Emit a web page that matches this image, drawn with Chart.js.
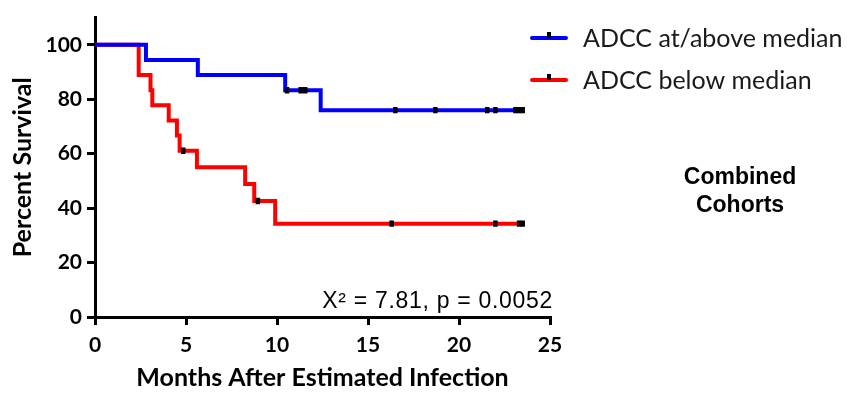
<!DOCTYPE html>
<html>
<head>
<meta charset="utf-8">
<script src="https://cdn.jsdelivr.net/npm/chart.js@4.4.0/dist/chart.umd.min.js"></script>
<style>
  html, body { margin: 0; padding: 0; background: #fff; }
</style>
</head>
<body>
<canvas id="survivalChart" width="847" height="393"></canvas>
<script>
// Kaplan-Meier steps: months after infection and percent surviving after each event
const aboveTimes = [0, 2.8, 5.65, 10.45, 12.4, 23.5];
const aboveSurvival = [100, 94.4, 88.9, 83.3, 76.0, 76.0];
const aboveCensored = [10.55, 11.3, 11.55, 16.5, 18.7, 21.55, 22.0, 23.1, 23.3, 23.5];

const belowTimes = [0, 2.4, 3.05, 3.15, 4.05, 4.5, 4.65, 5.6, 8.25, 8.75, 9.9, 23.5];
const belowSurvival = [100, 88.9, 83.3, 77.8, 72.2, 66.7, 61.1, 55.0, 48.9, 42.6, 34.3, 34.3];
const belowCensored = [4.85, 8.95, 16.3, 22.0, 23.3, 23.5];

const groupLabels = ['ADCC at/above median', 'ADCC below median'];
const groupColors = ['#0000ff', '#ff0000'];
const xTicks = [0, 5, 10, 15, 20, 25];
const yTicks = [0, 20, 40, 60, 80, 100];

function toPoints(times, values) {
  return times.map((t, i) => ({ x: t, y: values[i] }));
}

// censored subjects sit on the curve level at their time
function censorPoints(censored, times, values) {
  return censored.map(t => {
    let level = values[0];
    times.forEach((s, i) => { if (s <= t) level = values[i]; });
    return { x: t, y: level };
  });
}

const tickFont = { family: 'Lato', size: 21, weight: 'bold' };
const xTitleFont = { family: 'Lato', size: 25, weight: 'bold' };
const yTitleFont = { family: 'Lato', size: 25, weight: 'bold' };

const censorStyle = {
  type: 'scatter',
  showLine: false,
  pointStyle: 'line',
  rotation: 90,
  pointRadius: 3.2,
  pointHoverRadius: 3.2,
  pointBorderWidth: 4.5,
  pointBorderColor: '#000',
  borderColor: '#000',
  order: 0
};

// legend, test result and cohort label
const extras = {
  id: 'extras',
  afterDraw(chart) {
    const ctx = chart.ctx;
    ctx.save();
    const rows = [38, 80];
    rows.forEach((y, i) => {
      ctx.strokeStyle = groupColors[i];
      ctx.lineWidth = 4;
      ctx.lineCap = 'round';
      ctx.beginPath();
      ctx.moveTo(532, y);
      ctx.lineTo(566, y);
      ctx.stroke();
      ctx.fillStyle = '#000';
      ctx.fillRect(547, y - 6, 4, 6);
      ctx.fillStyle = '#1a1a1a';
      ctx.font = '25px Lato';
      ctx.textAlign = 'left';
      ctx.textBaseline = 'middle';
      ctx.fillText(groupLabels[i], 583, y + 1);
    });

    ctx.fillStyle = '#000';
    ctx.font = '23px "Liberation Sans"';
    ctx.letterSpacing = '0.7px';
    ctx.textAlign = 'right';
    ctx.textBaseline = 'alphabetic';
    ctx.fillText('X\u00b2 = 7.81, p = 0.0052', 553, 308);
    ctx.letterSpacing = '0px';

    ctx.font = 'bold 23px "Liberation Sans"';
    ctx.textAlign = 'center';
    ctx.fillText('Combined', 740, 184);
    ctx.fillText('Cohorts', 740, 212);
    ctx.restore();
  }
};

const survivalChart = new Chart(document.getElementById('survivalChart'), {
  type: 'line',
  data: {
    datasets: [
      {
        label: groupLabels[0],
        data: toPoints(aboveTimes, aboveSurvival),
        borderColor: groupColors[0],
        borderWidth: 4,
        stepped: 'before',
        pointRadius: 0,
        fill: false,
        order: 1
      },
      {
        label: groupLabels[1],
        data: toPoints(belowTimes, belowSurvival),
        borderColor: groupColors[1],
        borderWidth: 4,
        stepped: 'before',
        pointRadius: 0,
        fill: false,
        order: 2
      },
      Object.assign({ label: 'censored above', data: censorPoints(aboveCensored, aboveTimes, aboveSurvival) }, censorStyle),
      Object.assign({ label: 'censored below', data: censorPoints(belowCensored, belowTimes, belowSurvival) }, censorStyle)
    ]
  },
  options: {
    responsive: false,
    animation: false,
    layout: { padding: { top: 12, right: 297, bottom: 0, left: 0 } },
    plugins: { legend: { display: false }, tooltip: { enabled: false } },
    scales: {
      x: {
        type: 'linear',
        min: 0,
        max: 25,
        afterBuildTicks: s => { s.ticks = xTicks.map(v => ({ value: v })); },
        afterFit: s => { s.height = 76; },
        ticks: { color: '#000', font: tickFont, padding: 8, maxRotation: 0 },
        grid: { drawOnChartArea: false, color: '#000', lineWidth: 3, tickLength: 8 },
        border: { color: '#000', width: 3 },
        title: { display: true, text: 'Months After Estimated Infection', color: '#000', font: xTitleFont, padding: { top: 0, bottom: 0 } }
      },
      y: {
        type: 'linear',
        min: 0,
        max: 110,
        afterBuildTicks: s => { s.ticks = yTicks.map(v => ({ value: v })); },
        afterFit: s => { s.width = 95; },
        ticks: { color: '#000', font: tickFont, padding: 5 },
        grid: { drawOnChartArea: false, color: '#000', lineWidth: 3, tickLength: 8 },
        border: { color: '#000', width: 3 },
        title: { display: true, text: 'Percent Survival', color: '#000', font: yTitleFont, padding: { top: 8, bottom: 0 } }
      }
    }
  },
  plugins: [extras]
});
</script>
</body>
</html>
